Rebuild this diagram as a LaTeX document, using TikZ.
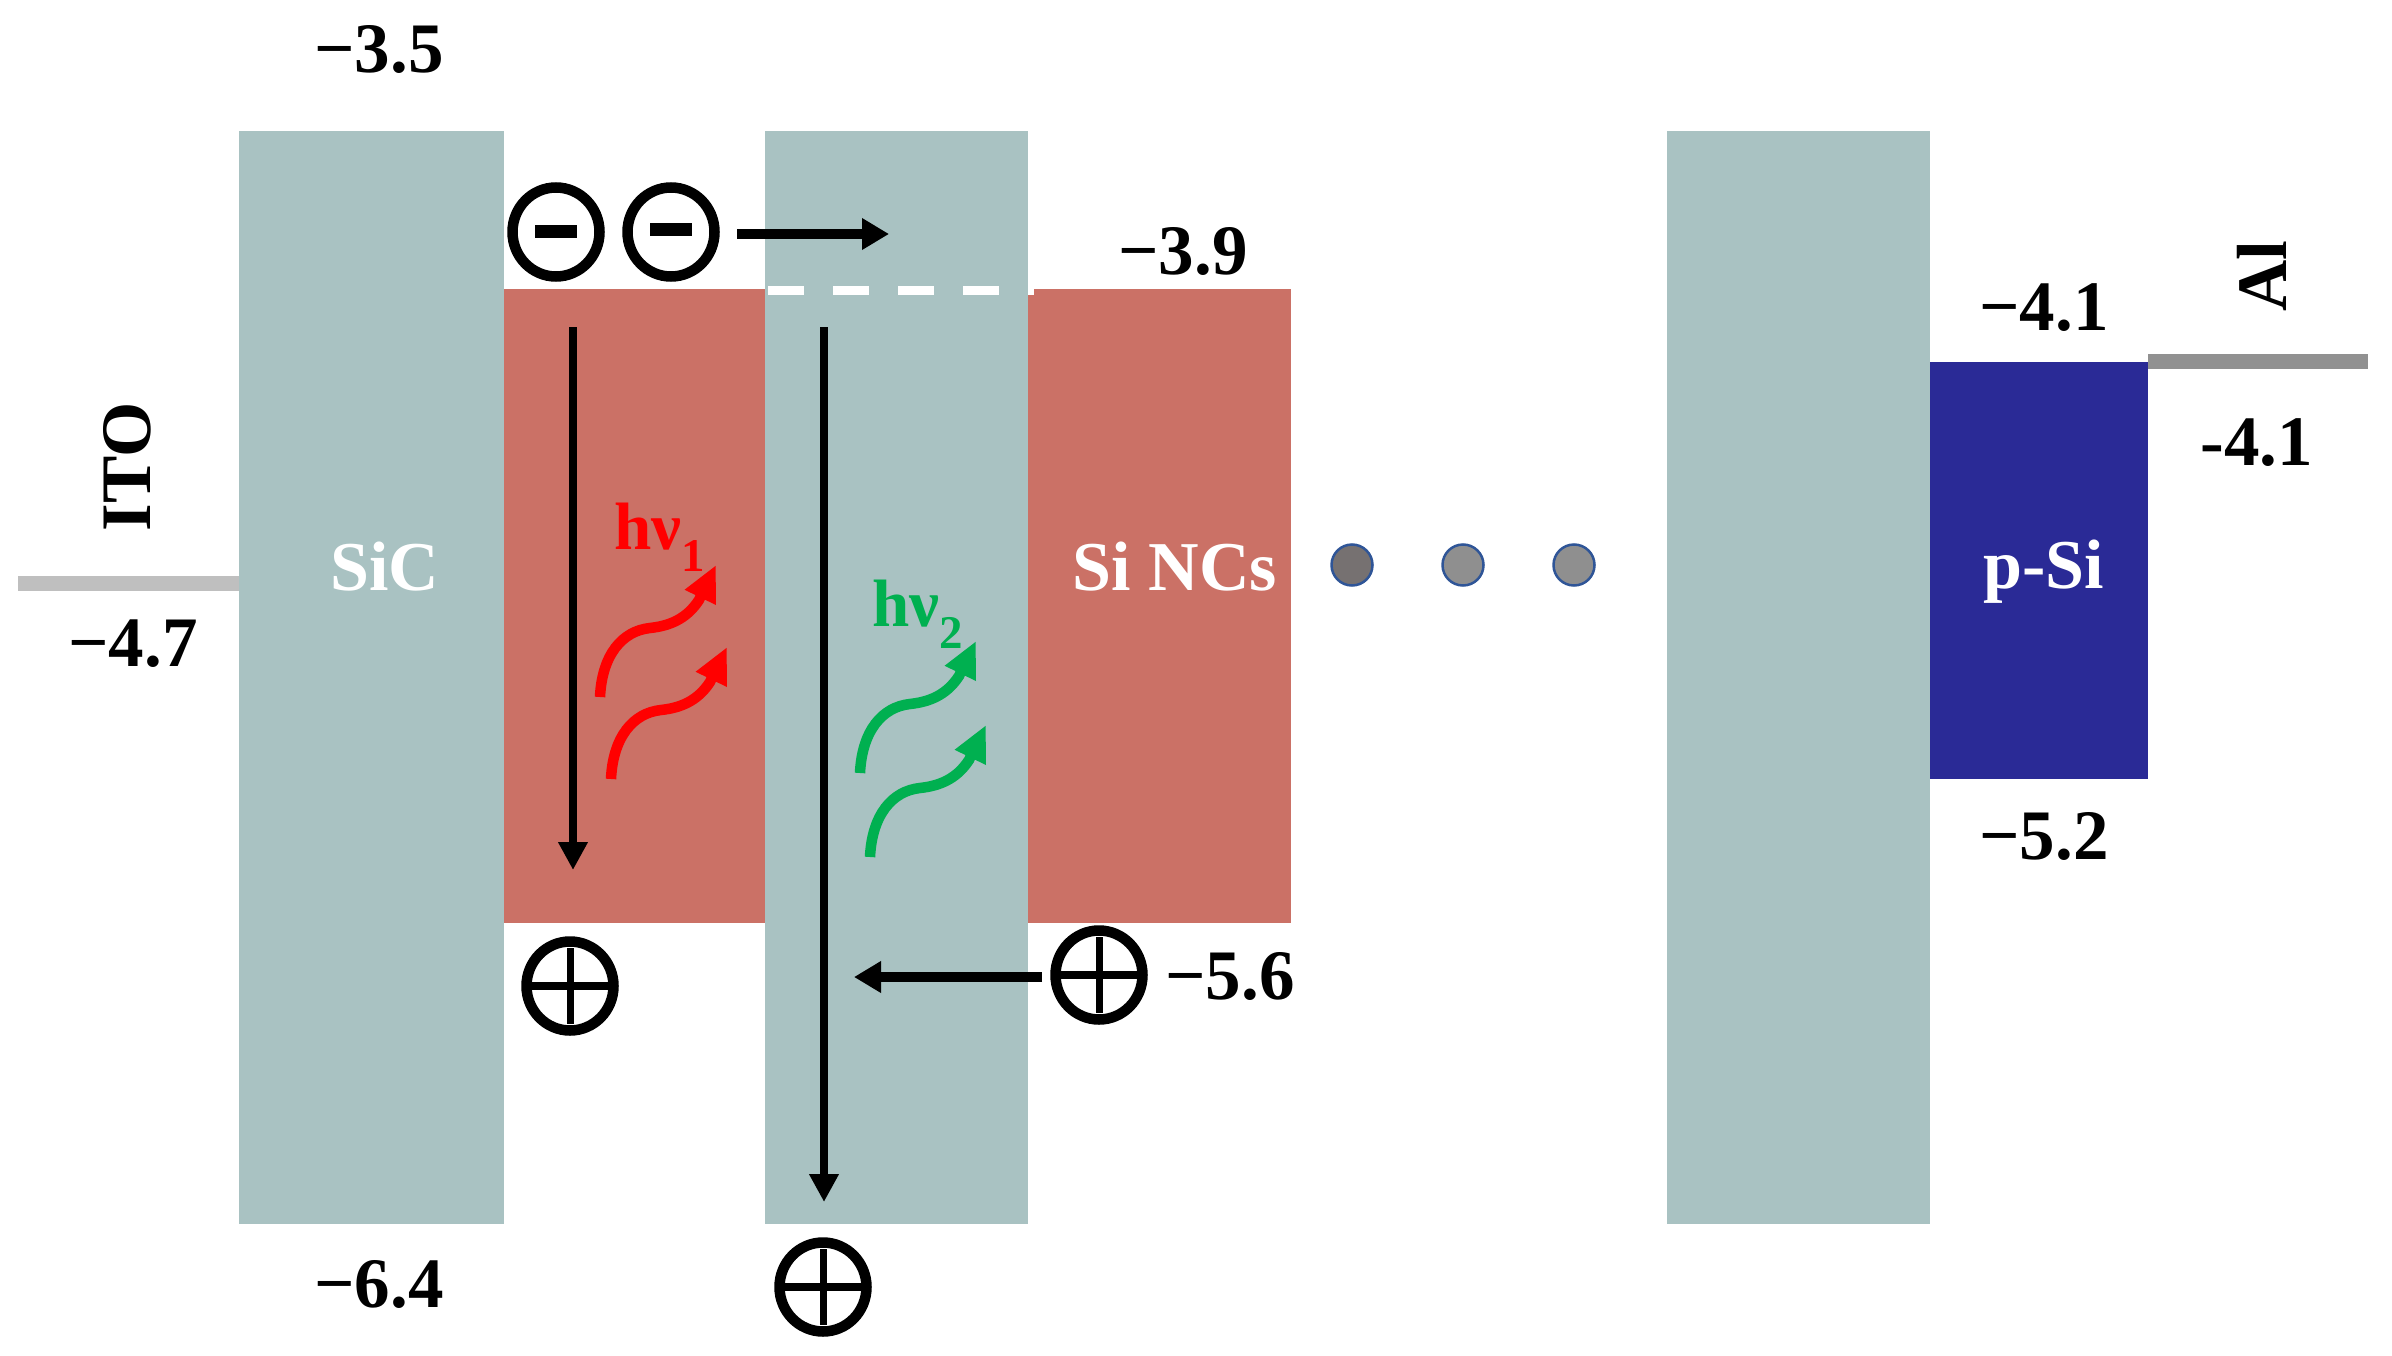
\documentclass[tikz,border=0pt]{standalone}
\usepackage{fontspec}
\setmainfont{Liberation Serif}
\usetikzlibrary{arrows.meta,shapes.geometric}
\definecolor{teal1}{HTML}{A9C2C2}
\definecolor{brick}{HTML}{CB7166}
\definecolor{navy1}{HTML}{2A2A96}
\definecolor{itogray}{HTML}{BFBFBF}
\definecolor{algray}{HTML}{919191}
\definecolor{dotdark}{HTML}{767171}
\definecolor{dotmid}{HTML}{8F8F8F}
\definecolor{dotedge}{HTML}{2F5597}
\definecolor{greenhv}{HTML}{00B050}
\tikzset{
  barbox/.style={anchor=north west,inner sep=0pt,outer sep=0pt,draw=none},
  lab/.style={font=\fontsize{71}{71}\selectfont\bfseries,inner sep=0pt,text=black},
  inlab/.style={font=\fontsize{70}{70}\selectfont\bfseries,inner sep=0pt,text=white},
  hvlab/.style={font=\fontsize{67}{67}\selectfont\bfseries,inner sep=0pt},
  ring/.style={ellipse,draw=black,line width=10.5pt,fill=none,minimum width=87pt,minimum height=89pt,inner sep=0pt},
  sign/.style={fill=black,inner sep=0pt,draw=none},
  dotn/.style={circle,draw=dotedge,line width=2.5pt,minimum size=41pt,inner sep=0pt},
  level/.style={line width=15pt},
  bigarrow/.style={line width=10pt,-{Triangle[length=27pt,width=30pt]}},
  longarrow/.style={line width=7.5pt,-{Triangle[length=28pt,width=28pt]}},
  wave/.style={line width=10.5pt,-{Triangle[length=36pt,width=32pt]}},
}
\newcommand{\wavepath}{(600,697) .. controls (602,655) and (622,631) .. (650,628) .. controls (668,626) and (686,620) .. (699,600) -- (716,565)}
\begin{document}
\begin{tikzpicture}[x=1pt,y=-1pt]
\useasboundingbox (0,0) rectangle (2392,1356);
% bands
\node[barbox,fill=brick,minimum width=262pt,minimum height=634pt] (red1) at (503,289) {};
\node[barbox,fill=brick,minimum width=263pt,minimum height=634pt] (red2) at (1028,289) {};
\node[barbox,fill=teal1,minimum width=265pt,minimum height=1093pt] (sic) at (238.5,131) {};
\node[barbox,fill=teal1,minimum width=263pt,minimum height=1093pt] (sic2) at (765,131) {};
\node[barbox,fill=teal1,minimum width=263pt,minimum height=1093pt] (sic3) at (1667,131) {};
\node[barbox,fill=navy1,minimum width=218pt,minimum height=417pt] (psi) at (1930,362) {};
% electrode levels
\coordinate (itoL) at (18,583);
\draw[level,itogray] (itoL) -- (sic.west |- itoL);
\coordinate (alR) at (2368,361.5);
\draw[level,algray] (psi.north east |- alR) -- (alR);
% dashed level
\coordinate (dashL) at (768,290);
\coordinate (dashR) at (1034,290);
\draw[white,line width=9pt,dash pattern=on 36pt off 29pt] (dashL) -- (dashR);
% labels
\node[lab] (t35) at (379,50) {−3.5};
\node[lab] (t47) at (133,644) {−4.7};
\node[lab] (t64) at (379,1284) {−6.4};
\node[lab] (t39) at (1183,251) {−3.9};
\node[lab] (t41a) at (2044,308) {−4.1};
\node[lab] (t41b) at (2257,443) {-4.1};
\node[lab] (t52) at (2044,836) {−5.2};
\node[lab] (t56) at (1230,976) {−5.6};
\node[lab,rotate=90] (ito) at (127,467) {ITO};
\node[lab,rotate=90] (al) at (2262,276) {Al};
\node[inlab] (sicl) at (385,567) {SiC};
\node[inlab] (sincl) at (1175,567) {Si NCs};
\node[inlab] (psil) at (2044,572) {p-Si};
\node[hvlab,text=red] (hv1) at (660,537) {hν\textsubscript{1}};
\node[hvlab,text=greenhv] (hv2) at (918,614) {hν\textsubscript{2}};
% electrons
\node[ring] (e1) at (556,232) {};
\node[ring] (e2) at (671,232) {};
\node[sign,minimum width=42pt,minimum height=13pt] (m1) at (e1) {};
\node[sign,minimum width=42pt,minimum height=13pt] (m2) at (671,230) {};
% holes
\node[ring] (h1) at (570,986) {};
\node[ring] (h2) at (823,1287) {};
\node[ring] (h3) at (1099,975) {};
\foreach \h in {h1,h2,h3}{
  \node[sign,minimum width=76pt,minimum height=8pt] at (\h) {};
  \node[sign,minimum width=7pt,minimum height=76pt] at (\h) {};
}
% arrows
\coordinate (ea) at (737,234);
\coordinate (eb) at (889,234);
\draw[bigarrow] (ea) -- (eb);
\coordinate (ha) at (1042,977);
\coordinate (hb) at (854,977);
\draw[bigarrow] (ha) -- (hb);
\coordinate (v1a) at (573,327);
\coordinate (v1b) at (573,870);
\draw[longarrow] (v1a) -- (v1b);
\coordinate (v2a) at (824,327);
\coordinate (v2b) at (824,1202);
\draw[longarrow] (v2a) -- (v2b);
% wavy emission arrows
\draw[wave,red] \wavepath;
\draw[wave,red,shift={(11,82)}] \wavepath;
\draw[wave,greenhv,shift={(260,76)}] \wavepath;
\draw[wave,greenhv,shift={(270,160)}] \wavepath;
% dots
\node[dotn,fill=dotdark] (d1) at (1352,565) {};
\node[dotn,fill=dotmid] (d2) at (1463,565) {};
\node[dotn,fill=dotmid] (d3) at (1574,565) {};
\end{tikzpicture}
\end{document}
